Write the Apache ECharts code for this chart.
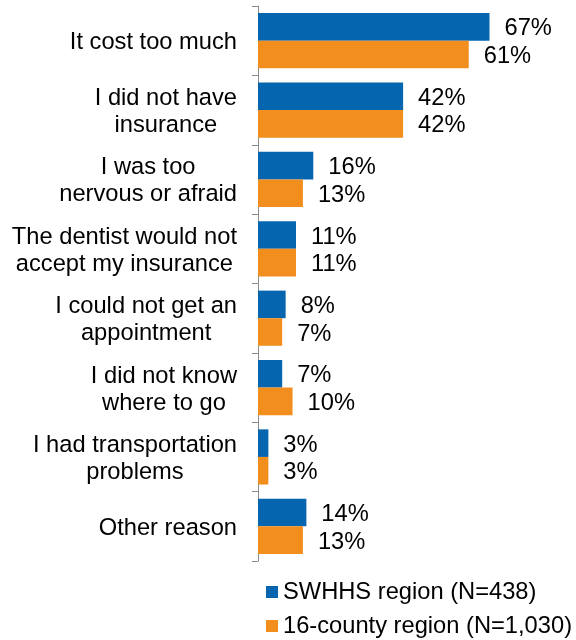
<!DOCTYPE html>
<html>
<head>
<meta charset="utf-8">
<script src="https://cdn.jsdelivr.net/npm/echarts@6/dist/echarts.min.js"></script>
<style>
html,body{margin:0;padding:0;background:#fff;}
#chart{width:576px;height:640px;}
</style>
</head>
<body>
<div id="chart"></div>
<script>
const categories = [
  "It cost too much",
  "I did not have\ninsurance",
  "I was too\nnervous or afraid",
  "The dentist would not\naccept my insurance",
  "I could not get an\nappointment",
  "I did not know\nwhere to go",
  "I had transportation\nproblems",
  "Other reason"
];
const seriesNames = ["SWHHS region (N=438)", "16-county region (N=1,030)"];
const swhhs = [67, 42, 16, 11, 8, 7, 3, 14];
const county16 = [61, 42, 13, 11, 7, 10, 3, 13];

const FONT = "'Liberation Sans', Arial, sans-serif";
const FS = 23.7;
const BLUE = '#0565AE';
const ORANGE = '#F28E1E';

const chart = echarts.init(document.getElementById('chart'), null, {renderer: 'canvas'});
const labelCfg = {
  show: true,
  position: 'right',
  distance: 15,
  offset: [0, 2],
  formatter: '{c}%',
  color: '#000',
  fontSize: FS,
  fontFamily: FONT
};
chart.setOption({
  animation: false,
  backgroundColor: '#fff',
  textStyle: {fontFamily: FONT},
  grid: {left: 258, top: 6, bottom: 79, right: 41.6, containLabel: false},
  legend: {
    orient: 'vertical',
    left: 266,
    top: 580,
    height: 120,
    padding: 0,
    itemWidth: 12,
    itemHeight: 12,
    itemGap: 10,
    icon: 'rect',
    textStyle: {fontSize: FS, fontFamily: FONT, color: '#000', lineHeight: 24},
    data: seriesNames
  },
  xAxis: {
    type: 'value', min: 0, max: 80, show: false
  },
  yAxis: {
    type: 'category',
    inverse: true,
    data: categories,
    axisLine: {show: true, lineStyle: {color: '#8c8c8c', width: 1}},
    axisTick: {show: true, length: 6, lineStyle: {color: '#8c8c8c'}},
    axisLabel: {
      margin: 21,
      align: 'right',
      padding: [4, 0, 0, 0],
      formatter: function (v) {
        return v.split('\n').map(function (l) { return '{c|' + l + '}'; }).join('\n');
      },
      rich: {
        c: {align: 'center', fontSize: FS, fontFamily: FONT, color: '#000', lineHeight: 27}
      }
    }
  },
  series: [
    {
      name: seriesNames[0], type: 'bar', data: swhhs,
      itemStyle: {color: BLUE},
      barCategoryGap: '20.5%', barGap: '0%',
      label: labelCfg
    },
    {
      name: seriesNames[1], type: 'bar', data: county16,
      itemStyle: {color: ORANGE},
      barCategoryGap: '20.5%', barGap: '0%',
      label: labelCfg
    }
  ]
});
</script>
</body>
</html>
